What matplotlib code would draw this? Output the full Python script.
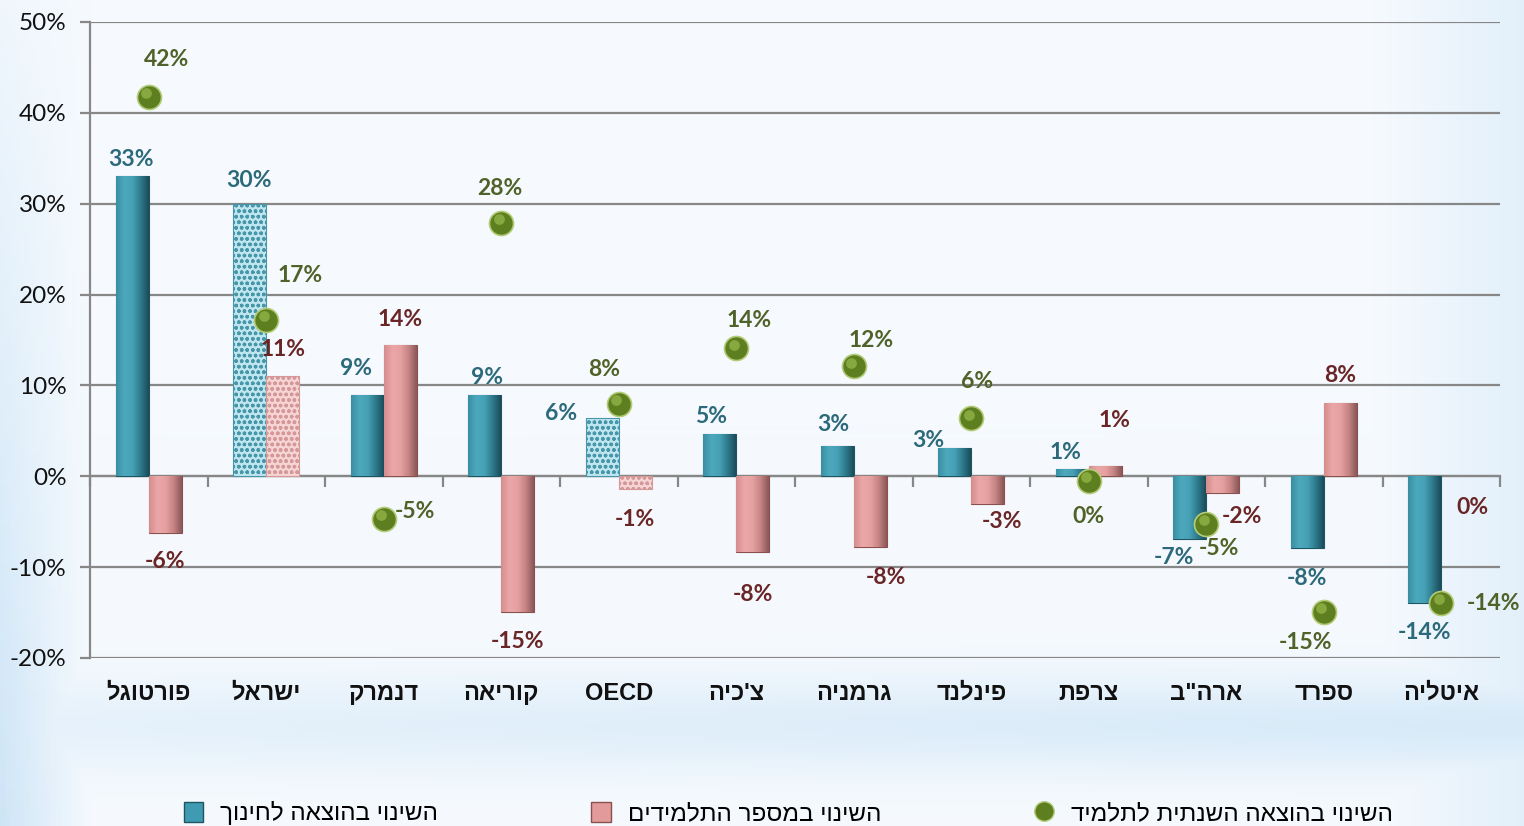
import numpy as np
import matplotlib.pyplot as plt
from matplotlib.patches import Patch
from matplotlib.lines import Line2D
from matplotlib.colors import to_rgb

# country names (logical Hebrew order)
countries = ['פורטוגל', 'ישראל', 'דנמרק', 'קוריאה', 'OECD', "צ'כיה",
             'גרמניה', 'פינלנד', 'צרפת', 'ארה"ב', 'ספרד', 'איטליה']

# change in spending on education (%)
edu_change = [33, 30, 9, 9, 6.4, 4.6, 3.3, 3.1, 0.8, -6.9, -7.9, -14]
edu_labels = ['33%', '30%', '9%', '9%', '6%', '5%', '3%', '3%', '1%', '-7%', '-8%', '-14%']

# change in number of students (%)
stud_change = [-6.2, 11, 14.4, -14.9, -1.4, -8.3, -7.8, -3, 1.1, -1.8, 8.1, 0]
stud_labels = ['-6%', '11%', '14%', '-15%', '-1%', '-8%', '-8%', '-3%', '1%', '-2%', '8%', '0%']

# change in annual spending per student (%)
per_student = [41.8, 17.2, -4.7, 27.9, 8.0, 14.1, 12.1, 6.4, -0.5, -5.2, -14.9, -13.9]
per_labels = ['42%', '17%', '-5%', '28%', '8%', '14%', '12%', '6%', '0%', '-5%', '-15%', '-14%']

legend_names = ['השינוי בהוצאה לחינוך', 'השינוי במספר התלמידים', 'השינוי בהוצאה השנתית לתלמיד']

yticks = [-20, -10, 0, 10, 20, 30, 40, 50]
hatched = [1, 4]  # Israel and OECD drawn with a pattern

# label offsets in pixels (layout only)
edu_off = [(-1, 17), (-1, 23), (-11, 26), (2, 17), (-41, 5), (-9, 18),
           (-4, 22), (-27, 8), (-7, 17), (-16, -19), (0, -30), (0, -29)]
stud_off = [(0, -29), (0, 27), (0, 26), (0, -30), (0, -30), (0, -43),
            (16, -30), (14, -18), (9, 46), (19, -24), (0, 27), (15, -31)]
per_off = [(18, 37), (34, 45), (31, 7), (-1, 34), (-15, 34), (13, 28),
           (17, 26), (6, 37), (0, -36), (13, -25), (-18, -31), (52, -1)]


def heb(s):
    # matplotlib has no bidi support, so put Hebrew in visual order
    if any('\u0590' <= c <= '\u05ff' for c in s):
        return s[::-1]
    return s


HEB = ['Liberation Sans', 'DejaVu Sans']
NUM = ['Lato', 'DejaVu Sans']
TEAL_T = '#2C6A7B'
PINK_T = '#6A2626'
GREEN_T = '#4F6228'

fig = plt.figure(figsize=(15.24, 8.26), dpi=100)

# background wash
bg = fig.add_axes([0, 0, 1, 1], zorder=-10)
yy, xx = np.mgrid[0:1:200j, 0:1:300j]
blue = np.clip(1 - xx / 0.06, 0, 1) * 0.6 * (1.2 - yy)
blue = np.maximum(blue, np.exp(-((yy - 0.12) / 0.06) ** 2) * 0.55 * (0.5 + 0.5 * xx))
blue = np.maximum(blue, np.clip((xx - 0.9) / 0.1, 0, 1) * 0.35)
c_lo = np.array(to_rgb('#F6FAFE'))
c_hi = np.array(to_rgb('#BFDDF4'))
img = c_lo[None, None, :] * (1 - blue[..., None]) + c_hi[None, None, :] * blue[..., None]
bg.imshow(img, extent=[0, 1, 0, 1], aspect='auto', origin='lower')
bg.axis('off')

ax = fig.add_axes([90 / 1524, 1 - 658 / 826, 1410 / 1524, 636 / 826])
ax.set_facecolor('none')

x = np.arange(len(countries))
w = 0.28


def grad_fill(rect, stops):
    x0, y0 = rect.get_x(), rect.get_y()
    h = rect.get_height()
    cols = [np.array(to_rgb(c)) for c in stops]
    n = 64
    pos = np.linspace(0, 1, len(cols))
    t = np.linspace(0, 1, n)
    row = np.stack([np.interp(t, pos, [c[k] for c in cols]) for k in range(3)], axis=1)
    im = ax.imshow(row[None, :, :], extent=[x0, x0 + rect.get_width(), min(y0, y0 + h), max(y0, y0 + h)],
                   aspect='auto', zorder=2.1, interpolation='bilinear')
    im.set_clip_path(rect)


b1 = ax.bar(x - w / 2, edu_change, w, color='#3F9BB1', edgecolor='#1E5563', linewidth=0.8, zorder=2)
b2 = ax.bar(x + w / 2, stud_change, w, color='#E29A9A', edgecolor='#8A5050', linewidth=0.8, zorder=2)

for i, (r1, r2) in enumerate(zip(b1, b2)):
    if i in hatched:
        r1.set_facecolor('#BFE6EF')
        r1.set_edgecolor('#4796AA')
        r1.set_hatch('ooo')
        r2.set_facecolor('#F6D4D4')
        r2.set_edgecolor('#D49898')
        r2.set_hatch('ooo')
    else:
        grad_fill(r1, ['#3A8FA3', '#4CA8BD', '#46A1B6', '#2E7A8C', '#1B4D5A'])
        grad_fill(r2, ['#D58C8C', '#EBA7A7', '#E6A0A0', '#C68484', '#8C5858'])
    for r in (r1, r2):
        if r.get_height() == 0:
            r.set_visible(False)

ax.scatter(x, per_student, s=300, color='#5E7F1F', edgecolor='#B4CC7A', linewidth=1.2, zorder=4)
ax.scatter(x - 0.02, np.array(per_student) + 0.4, s=60, color='#86A83E', linewidth=0, zorder=5)

for i in range(len(x)):
    ax.annotate(edu_labels[i], (x[i] - w / 2, edu_change[i]), xytext=edu_off[i],
                textcoords='offset pixels', ha='center', va='center', fontsize=16.5,
                fontweight='bold', color=TEAL_T, family=NUM, zorder=6)
    ax.annotate(stud_labels[i], (x[i] + w / 2, stud_change[i]), xytext=stud_off[i],
                textcoords='offset pixels', ha='center', va='center', fontsize=16.5,
                fontweight='bold', color=PINK_T, family=NUM, zorder=6)
    ax.annotate(per_labels[i], (x[i], per_student[i]), xytext=per_off[i],
                textcoords='offset pixels', ha='center', va='center', fontsize=16.5,
                fontweight='bold', color=GREEN_T, family=NUM, zorder=6)

ax.set_xlim(-0.5, len(x) - 0.5)
ax.set_ylim(-20, 50)
ax.set_yticks(yticks)
ax.set_yticklabels([f'{v}%' for v in yticks], family=NUM, fontsize=17.5, color='#111111')
ax.yaxis.grid(True, color='#878787', linewidth=1.6, zorder=0)
ax.set_axisbelow(True)

for s in ['top', 'right']:
    ax.spines[s].set_visible(False)
ax.spines['left'].set_color('#878787')
ax.spines['left'].set_linewidth(1.6)
ax.spines['bottom'].set_position(('data', 0))
ax.spines['bottom'].set_color('#878787')
ax.spines['bottom'].set_linewidth(1.6)
ax.spines['bottom'].set_zorder(1.5)

ax.tick_params(axis='y', direction='out', length=7, width=1.6, color='#878787', pad=10)
ax.set_xticks(x)
ax.set_xticklabels([])
ax.tick_params(axis='x', which='major', length=0)
ax.set_xticks(np.arange(len(x) + 1) - 0.5, minor=True)
ax.tick_params(axis='x', which='minor', direction='out', length=8, width=1.6, color='#878787')

for i, name in enumerate(countries):
    ax.text(x[i], -0.056, heb(name), transform=ax.get_xaxis_transform(), ha='center', va='center',
            fontsize=17, fontweight='bold', family=HEB, color='#111111')

handles = [Patch(facecolor='#3F9BB1', edgecolor='#1E5563'),
           Patch(facecolor='#E29A9A', edgecolor='#8A5050'),
           Line2D([], [], marker='o', linestyle='', markersize=14, markerfacecolor='#5E7F1F',
                  markeredgecolor='#B4CC7A')]
fig.legend(handles, [heb(n) for n in legend_names], loc='center left', ncol=3, frameon=False,
           bbox_to_anchor=(162 / 1524, 1 - 813 / 826), handlelength=0.8, handleheight=0.9,
           handletextpad=0.7, columnspacing=6.3, prop={'family': HEB, 'size': 17.5})

fig.savefig('out.png', dpi=100)
